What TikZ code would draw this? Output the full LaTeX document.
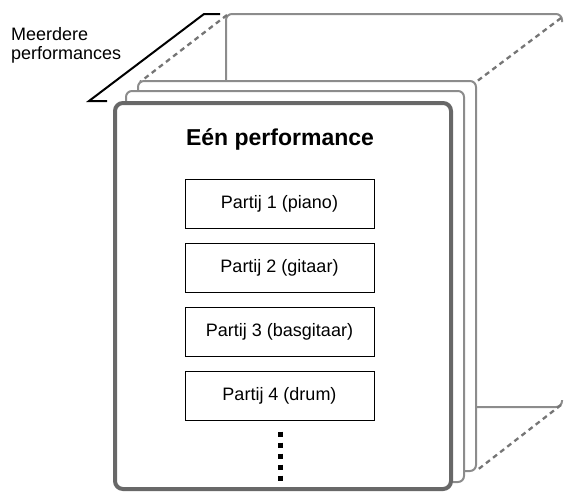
\documentclass[tikz,border=0pt]{standalone}
\usepackage{fontspec}
\setmainfont{Liberation Sans}
\definecolor{cardgray}{HTML}{8C8C8C}
\definecolor{frontgray}{HTML}{686868}
\definecolor{dashgray}{HTML}{757575}
\begin{document}
\begin{tikzpicture}[x=1pt,y=-1pt,
  backline/.style={draw=cardgray, line width=2pt, rounded corners=6pt},
  card/.style={draw=cardgray, line width=2pt, fill=white, rounded corners=6pt},
  frontcard/.style={draw=frontgray, line width=4pt, fill=white, rounded corners=8pt},
  partbox/.style={draw=black, line width=0.9pt, minimum width=189pt, minimum height=49pt, inner sep=0pt, font=\fontsize{18}{21}\selectfont},
  guide/.style={draw=dashgray, line width=2.3pt, dash pattern=on 5pt off 4pt},
  bracket/.style={draw=black, line width=2pt},
  lbl/.style={anchor=base west, inner sep=0pt, font=\fontsize{18}{21}\selectfont},
  titletext/.style={inner sep=0pt, font=\bfseries\fontsize{23}{27}\selectfont},
  dots/.style={draw=black, line width=5pt, dash pattern=on 5pt off 6pt}
]
\useasboundingbox (0,0) rectangle (564,493);

% back card (partly hidden)
\draw[backline] (562,22) -- (562,14) -- (226,14) -- (226,407) -- (562,407) -- (562,400);

% perspective guides
\coordinate (btl) at (227,15);
\coordinate (btr) at (561,18);
\coordinate (bbr) at (561,405);
\coordinate (ctl) at (140,82);
\coordinate (ctr) at (476,82);
\coordinate (cbr) at (476,471);
\draw[guide] (btl) -- (ctl);
\draw[guide] (btr) -- (ctr);
\draw[guide] (bbr) -- (cbr);

% stacked cards
\draw[card] (138,81) rectangle (476,471);
\draw[card] (126,91) rectangle (464,482);
\draw[frontcard] (115,103) rectangle (451,489);

% bracket for "Meerdere performances"
\coordinate (k1) at (220,14);
\coordinate (k2) at (204,14);
\coordinate (k3) at (89,101);
\coordinate (k4) at (107,101);
\draw[bracket] (k1) -- (k2) -- (k3) -- (k4);

\node[lbl] (lab1) at (11,40) {Meerdere};
\node[lbl] (lab2) at (11,59) {performances};

\node[titletext] (title) at (280,139.5) {Eén performance};

\node[partbox] (p1) at (279.5,203.5) {Partij 1 (piano)};
\node[partbox] (p2) at (279.5,267.5) {Partij 2 (gitaar)};
\node[partbox] (p3) at (279.5,331.5) {Partij 3 (basgitaar)};
\node[partbox] (p4) at (279.5,395.5) {Partij 4 (drum)};

\coordinate (d1) at (280,431.5);
\coordinate (d2) at (280,480.5);
\draw[dots] (d1) -- (d2);
\end{tikzpicture}
\end{document}
